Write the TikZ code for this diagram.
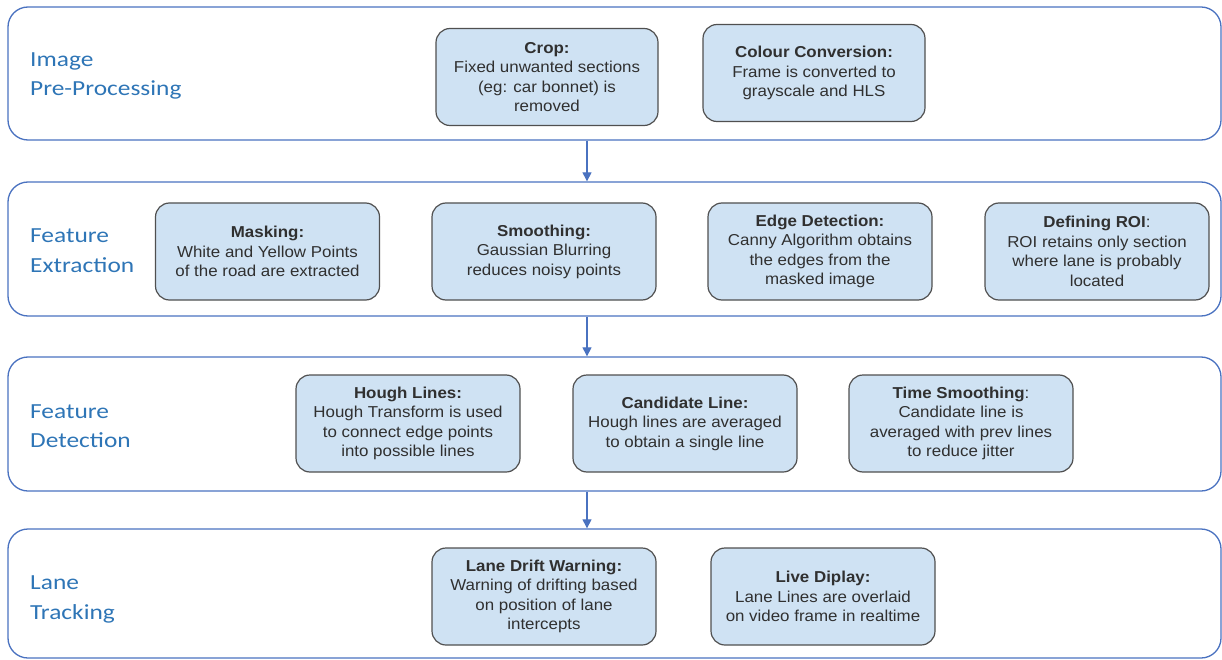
\documentclass[tikz,border=0pt]{standalone}
\usepackage{fontspec}
\setmainfont{Liberation Sans}
\newfontfamily\boxfont[FakeStretch=1.07]{Liberation Sans}
\newfontfamily\labfont[FakeStretch=1.18]{Carlito}
\usetikzlibrary{arrows.meta}
\definecolor{bandblue}{HTML}{4A72C0}
\definecolor{labblue}{HTML}{2E75B6}
\definecolor{boxfill}{HTML}{CFE2F3}
\definecolor{boxline}{HTML}{505050}
\definecolor{boxtext}{HTML}{303030}
\begin{document}
\begin{tikzpicture}[x=1pt,y=-1pt,
 band/.style={draw=bandblue, line width=1.3pt, rounded corners=20pt, minimum width=1213pt, inner sep=0pt},
 stepbox/.style={draw=boxline, fill=boxfill, line width=1.2pt, rounded corners=14pt, minimum width=224pt, minimum height=97pt, inner sep=0pt, align=center, text=boxtext, font=\boxfont\fontsize{15.8}{19.5}\selectfont},
 lab/.style={anchor=base west, align=left, text=labblue, font=\labfont\fontsize{21.5}{29.5}\selectfont, inner sep=0pt},
 arr/.style={draw=bandblue, line width=1.1pt, -{Triangle[width=9pt,length=9pt]}}]

\useasboundingbox (0,0) rectangle (1222,660);

% bands
\node[band, minimum height=133pt] (b1) at (614.5,73.5) {};
\node[band, minimum height=134pt] (b2) at (614.5,249) {};
\node[band, minimum height=134pt] (b3) at (614.5,424) {};
\node[band, minimum height=129pt] (b4) at (614.5,593.5) {};

% band labels (anchor = baseline of last line)
\node[lab] (l1) at (30,96) {Image\\Pre-Processing};
\node[lab] (l2) at (30,272) {Feature\\Extraction};
\node[lab] (l3) at (30,447.5) {Feature\\Detection};
\node[lab] (l4) at (30,619) {Lane\\Tracking};

% arrows
\coordinate (ax) at (587,0);
\draw[arr] (b1.south -| ax) -- (b2.north -| ax);
\draw[arr] (b2.south -| ax) -- (b3.north -| ax);
\draw[arr] (b3.south -| ax) -- (b4.north -| ax);

% band 1
\node[stepbox, minimum width=222pt] (crop) at (547,77) {\textbf{Crop:}\\Fixed unwanted sections\\(eg: car bonnet) is\\removed};
\node[stepbox, minimum width=222pt] (colour) at (814,73) {\textbf{Colour Conversion:}\\Frame is converted to\\grayscale and HLS};

% band 2
\node[stepbox] (mask) at (267.5,251.5) {\textbf{Masking:}\\White and Yellow Points\\of the road are extracted};
\node[stepbox] (smooth) at (544,251.5) {\textbf{Smoothing:}\\Gaussian Blurring\\reduces noisy points};
\node[stepbox] (edge) at (820,251.5) {\textbf{Edge Detection:}\\Canny Algorithm obtains\\the edges from the\\masked image};
\node[stepbox] (roi) at (1097,251.5) {\textbf{Defining ROI}:\\ROI retains only section\\where lane is probably\\located};

% band 3
\node[stepbox] (hough) at (408,423.5) {\textbf{Hough Lines:}\\Hough Transform is used\\to connect edge points\\into possible lines};
\node[stepbox] (cand) at (685,423.5) {\textbf{Candidate Line:}\\Hough lines are averaged\\to obtain a single line};
\node[stepbox] (time) at (961,423.5) {\textbf{Time Smoothing}:\\Candidate line is\\averaged with prev lines\\to reduce jitter};

% band 4
\node[stepbox] (drift) at (544,596.5) {\textbf{Lane Drift Warning:}\\Warning of drifting based\\on position of lane\\intercepts};
\node[stepbox] (live) at (823,596.5) {\textbf{Live Diplay:}\\Lane Lines are overlaid\\on video frame in realtime};
\end{tikzpicture}
\end{document}
